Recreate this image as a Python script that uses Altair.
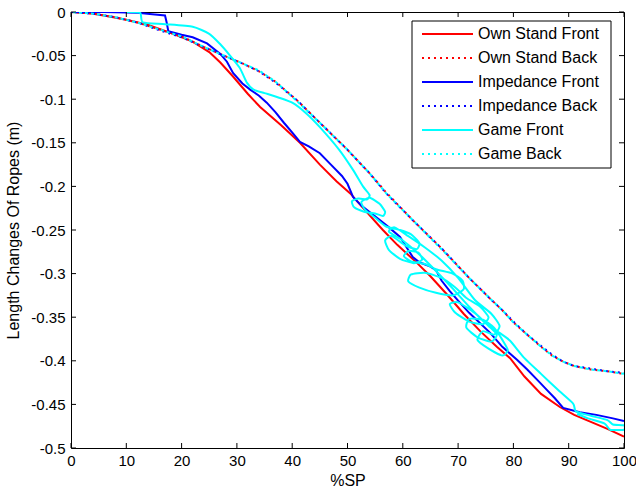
import altair as alt
import pandas as pd

# ---------------- data ----------------
x_ticks = [0, 10, 20, 30, 40, 50, 60, 70, 80, 90, 100]
y_ticks = [0, -0.05, -0.1, -0.15, -0.2, -0.25, -0.3, -0.35, -0.4, -0.45, -0.5]

series_names = ["Own Stand Front", "Own Stand Back", "Impedance Front",
                "Impedance Back", "Game Front", "Game Back"]
series_colors = ["#ff0000", "#ff0000", "#0000ff", "#0000ff", "#00ffff", "#00ffff"]
series_dotted = [False, True, False, True, False, True]

own_front_x = [0, 3, 6, 10, 14, 18, 22, 25, 27, 29.3, 32, 34.2, 38, 41.4, 45, 48, 50.5, 53,
               56.4, 59, 62.6, 65, 68, 71, 74, 77, 79.4, 82, 85, 88.4, 91, 94, 97, 100]
own_front_y = [0, -0.001, -0.004, -0.009, -0.015, -0.024, -0.034, -0.046, -0.058, -0.074,
               -0.094, -0.109, -0.13, -0.15, -0.175, -0.194, -0.208, -0.226, -0.25, -0.267,
               -0.288, -0.303, -0.324, -0.346, -0.366, -0.384, -0.397, -0.418, -0.438,
               -0.453, -0.462, -0.47, -0.478, -0.487]

own_back_x = [0, 4, 8, 12, 16, 20, 24, 28, 31, 34, 37, 41, 45, 50, 54, 57, 62, 67, 72, 76,
              78, 80, 82.5, 85, 87, 89, 91, 94, 97, 100]
own_back_y = [0, -0.002, -0.006, -0.012, -0.02, -0.028, -0.04, -0.051, -0.059, -0.068,
              -0.08, -0.102, -0.127, -0.158, -0.185, -0.207, -0.24, -0.271, -0.305, -0.33,
              -0.342, -0.356, -0.37, -0.384, -0.394, -0.401, -0.406, -0.41, -0.412, -0.415]

imp_front_x = [0, 6, 12, 17, 17.3, 17.6, 20, 22, 24.6, 27, 28.2, 29.3, 31, 32.4, 34, 35.4,
               37, 38.5, 40.1, 41.4, 43, 45, 47, 49, 50, 51, 52.5, 55.9, 57.5, 59.5, 60.5,
               61.8, 63, 65, 66, 67, 68.5, 70, 72, 75.8, 78, 80.7, 82.5, 84.8, 86, 87.5,
               89, 92, 95, 98, 100]
imp_front_y = [0, 0, -0.001, -0.004, -0.012, -0.022, -0.026, -0.029, -0.036, -0.048, -0.057,
               -0.07, -0.082, -0.089, -0.096, -0.104, -0.115, -0.127, -0.139, -0.149,
               -0.154, -0.162, -0.175, -0.188, -0.197, -0.212, -0.222, -0.239, -0.247,
               -0.258, -0.268, -0.281, -0.287, -0.292, -0.296, -0.308, -0.32, -0.331,
               -0.345, -0.368, -0.384, -0.399, -0.41, -0.425, -0.433, -0.443, -0.454,
               -0.459, -0.462, -0.466, -0.469]

imp_back_x = [0, 4, 8, 12, 16, 20, 24, 28, 31, 34, 37, 41, 45, 50, 54, 57, 62, 67, 72, 76,
              78, 80, 82.5, 85, 87, 89, 91, 94, 97, 100]
imp_back_y = [0, -0.002, -0.006, -0.012, -0.021, -0.029, -0.04, -0.051, -0.059, -0.068,
              -0.081, -0.102, -0.127, -0.158, -0.185, -0.208, -0.24, -0.271, -0.305, -0.33,
              -0.342, -0.355, -0.37, -0.383, -0.393, -0.401, -0.406, -0.409, -0.412, -0.414]

game_front_x = [10, 12.5, 13, 17, 22, 25, 27, 28.5, 30.5, 31.8, 33, 35, 37.5, 40, 42.5, 45,
                48.5, 51, 52.8, 54,
                53.5, 52, 50.8, 51.2, 53, 55, 56.4, 56.8, 55.8, 54, 52.5, 53.2, 55, 57,
                59.5, 61.5, 63, 62.5, 60.5, 58, 56.8, 57.5, 59.5, 62, 63.5, 62.8, 61, 60.2,
                61.5, 64, 66,
                69, 70.8, 71, 69, 66, 63, 61, 61.5, 64, 67, 69.5,
                71.5, 74, 75.5, 74.5, 72, 69.5, 68.5, 70, 73, 75.5, 77, 76, 73.5, 71.5, 72,
                74.5, 76.5, 78, 79, 78, 75.5, 73.5, 74.5, 76.5, 77.5, 76, 73,
                70, 67, 64, 61, 58.5, 57.5,
                60, 63, 66, 69, 72, 75, 77.5, 79.4, 82, 85, 88, 90.8, 91.3, 94, 97, 98, 100,
                100, 97.5, 96.5, 93.5, 91.5]
game_front_y = [0, -0.001, -0.012, -0.014, -0.017, -0.025, -0.037, -0.048, -0.064, -0.081,
                -0.089, -0.093, -0.098, -0.104, -0.116, -0.132, -0.158, -0.181, -0.2, -0.21,
                -0.215, -0.214, -0.217, -0.224, -0.229, -0.231, -0.234, -0.229, -0.22,
                -0.213, -0.218, -0.227, -0.236, -0.246,
                -0.25, -0.255, -0.265, -0.272, -0.268, -0.257, -0.262, -0.273, -0.283,
                -0.288, -0.284, -0.276, -0.274, -0.28, -0.286, -0.289, -0.295,
                -0.3, -0.308, -0.318, -0.325, -0.322, -0.316, -0.309, -0.301, -0.299,
                -0.305, -0.316,
                -0.328, -0.338, -0.35, -0.358, -0.355, -0.345, -0.335, -0.333, -0.345,
                -0.36, -0.37, -0.378, -0.373, -0.362, -0.352, -0.353, -0.362, -0.376,
                -0.388, -0.394, -0.386, -0.376, -0.366, -0.37, -0.36, -0.346, -0.33,
                -0.305, -0.285, -0.27, -0.257, -0.247, -0.252,
                -0.262, -0.278, -0.297, -0.317, -0.338, -0.357, -0.368, -0.377, -0.397,
                -0.415, -0.433, -0.449, -0.458, -0.463, -0.468, -0.473, -0.474,
                -0.479, -0.479, -0.472, -0.466, -0.461]

game_back_x = [0, 4, 8, 12, 16, 20, 24, 28, 31, 34, 37, 41, 45, 50, 54, 57, 62, 67, 72, 76,
               78, 80, 82.5, 85, 87, 89, 91, 94, 97, 100]
game_back_y = [0, -0.002, -0.006, -0.012, -0.02, -0.028, -0.04, -0.051, -0.059, -0.067,
               -0.08, -0.103, -0.127, -0.158, -0.185, -0.208, -0.24, -0.272, -0.305, -0.33,
               -0.342, -0.356, -0.37, -0.384, -0.394, -0.401, -0.406, -0.41, -0.412, -0.415]

series_x = [own_front_x, own_back_x, imp_front_x, imp_back_x, game_front_x, game_back_x]
series_y = [own_front_y, own_back_y, imp_front_y, imp_back_y, game_front_y, game_back_y]

# ---------------- layout / style ----------------
W, H = 553, 436
FONT = "Liberation Sans"
xs = alt.Scale(domain=[0, 100], nice=False, zero=False)
ys = alt.Scale(domain=[-0.5, 0], nice=False, zero=False)

xaxis = alt.Axis(values=x_ticks, format="d", ticks=False, grid=False, domain=False,
                 labelFlush=False, labelOverlap=False, labelPadding=5,
                 labelFontSize=15, labelFont=FONT, labelColor="black",
                 title="%SP", titleFont=FONT, titleFontSize=16, titleFontWeight="normal",
                 titleColor="black", titlePadding=4)
yaxis = alt.Axis(values=y_ticks, ticks=False, grid=False, domain=False,
                 labelExpr="(datum.value < 0 ? '-' : '') + format(abs(datum.value), '.2~f')",
                 labelOverlap=False, labelPadding=6, labelFontSize=15, labelFont=FONT,
                 labelColor="black",
                 title="Length Changes Of Ropes (m)", titleFont=FONT, titleFontSize=16,
                 titleFontWeight="normal", titleColor="black", titlePadding=9)


def X(field="x"):
    return alt.X(f"{field}:Q", scale=xs, axis=xaxis)


def Y(field="y"):
    return alt.Y(f"{field}:Q", scale=ys, axis=yaxis)


layers = []
dash_style = {1: ([2, 4], 0), 3: ([2, 4], 2), 5: ([3, 3], 4)}
for i in range(6):
    df = pd.DataFrame({"x": series_x[i], "y": series_y[i], "i": list(range(len(series_x[i])))})
    kw = dict(stroke=series_colors[i], strokeWidth=2, clip=True)
    if series_dotted[i]:
        kw["strokeDash"] = dash_style[i][0]
        kw["strokeDashOffset"] = dash_style[i][1]
    if i == 4:
        kw["interpolate"] = "cardinal"
        kw["tension"] = 0.4
    layers.append(alt.Chart(df).mark_line(**kw).encode(x=X(), y=Y(), order="i:Q"))

# inward ticks on all four sides
xt = pd.DataFrame({"x": x_ticks})
yt = pd.DataFrame({"y": y_ticks})
TL = 5
layers.append(alt.Chart(xt).mark_rule(color="black", strokeWidth=1).encode(
    x=X(), y=alt.value(H), y2=alt.value(H - TL)))
layers.append(alt.Chart(xt).mark_rule(color="black", strokeWidth=1).encode(
    x=X(), y=alt.value(0), y2=alt.value(TL)))
layers.append(alt.Chart(yt).mark_rule(color="black", strokeWidth=1).encode(
    y=Y(), x=alt.value(0), x2=alt.value(TL)))
layers.append(alt.Chart(yt).mark_rule(color="black", strokeWidth=1).encode(
    y=Y(), x=alt.value(W), x2=alt.value(W - TL)))

# legend box
LX0, LY0, LX1, LY1 = 341, 9, 540, 156
one = pd.DataFrame({"a": [0]})
layers.append(alt.Chart(one).mark_rect(fill="white", stroke="black", strokeWidth=1).encode(
    x=alt.value(LX0), x2=alt.value(LX1), y=alt.value(LY0), y2=alt.value(LY1)))
for i, name in enumerate(series_names):
    ry = 22 + 24 * i
    kw = dict(color=series_colors[i], strokeWidth=2)
    if series_dotted[i]:
        kw["strokeDash"] = [2, 4]
    layers.append(alt.Chart(one).mark_rule(**kw).encode(
        x=alt.value(351), x2=alt.value(402), y=alt.value(ry)))
    ldf = pd.DataFrame({"name": [name]})
    layers.append(alt.Chart(ldf).mark_text(align="left", baseline="middle", fontSize=16,
                                           font=FONT, color="black").encode(
        x=alt.value(407), y=alt.value(ry), text="name:N"))

chart = alt.layer(*layers).properties(
    width=W, height=H,
    padding={"left": 71, "top": 12, "right": 12, "bottom": 43},
    autosize="none",
    background="white",
).configure_view(stroke="black", strokeWidth=1)

chart.save("out.html", embed_options={"renderer": "svg", "actions": False})
